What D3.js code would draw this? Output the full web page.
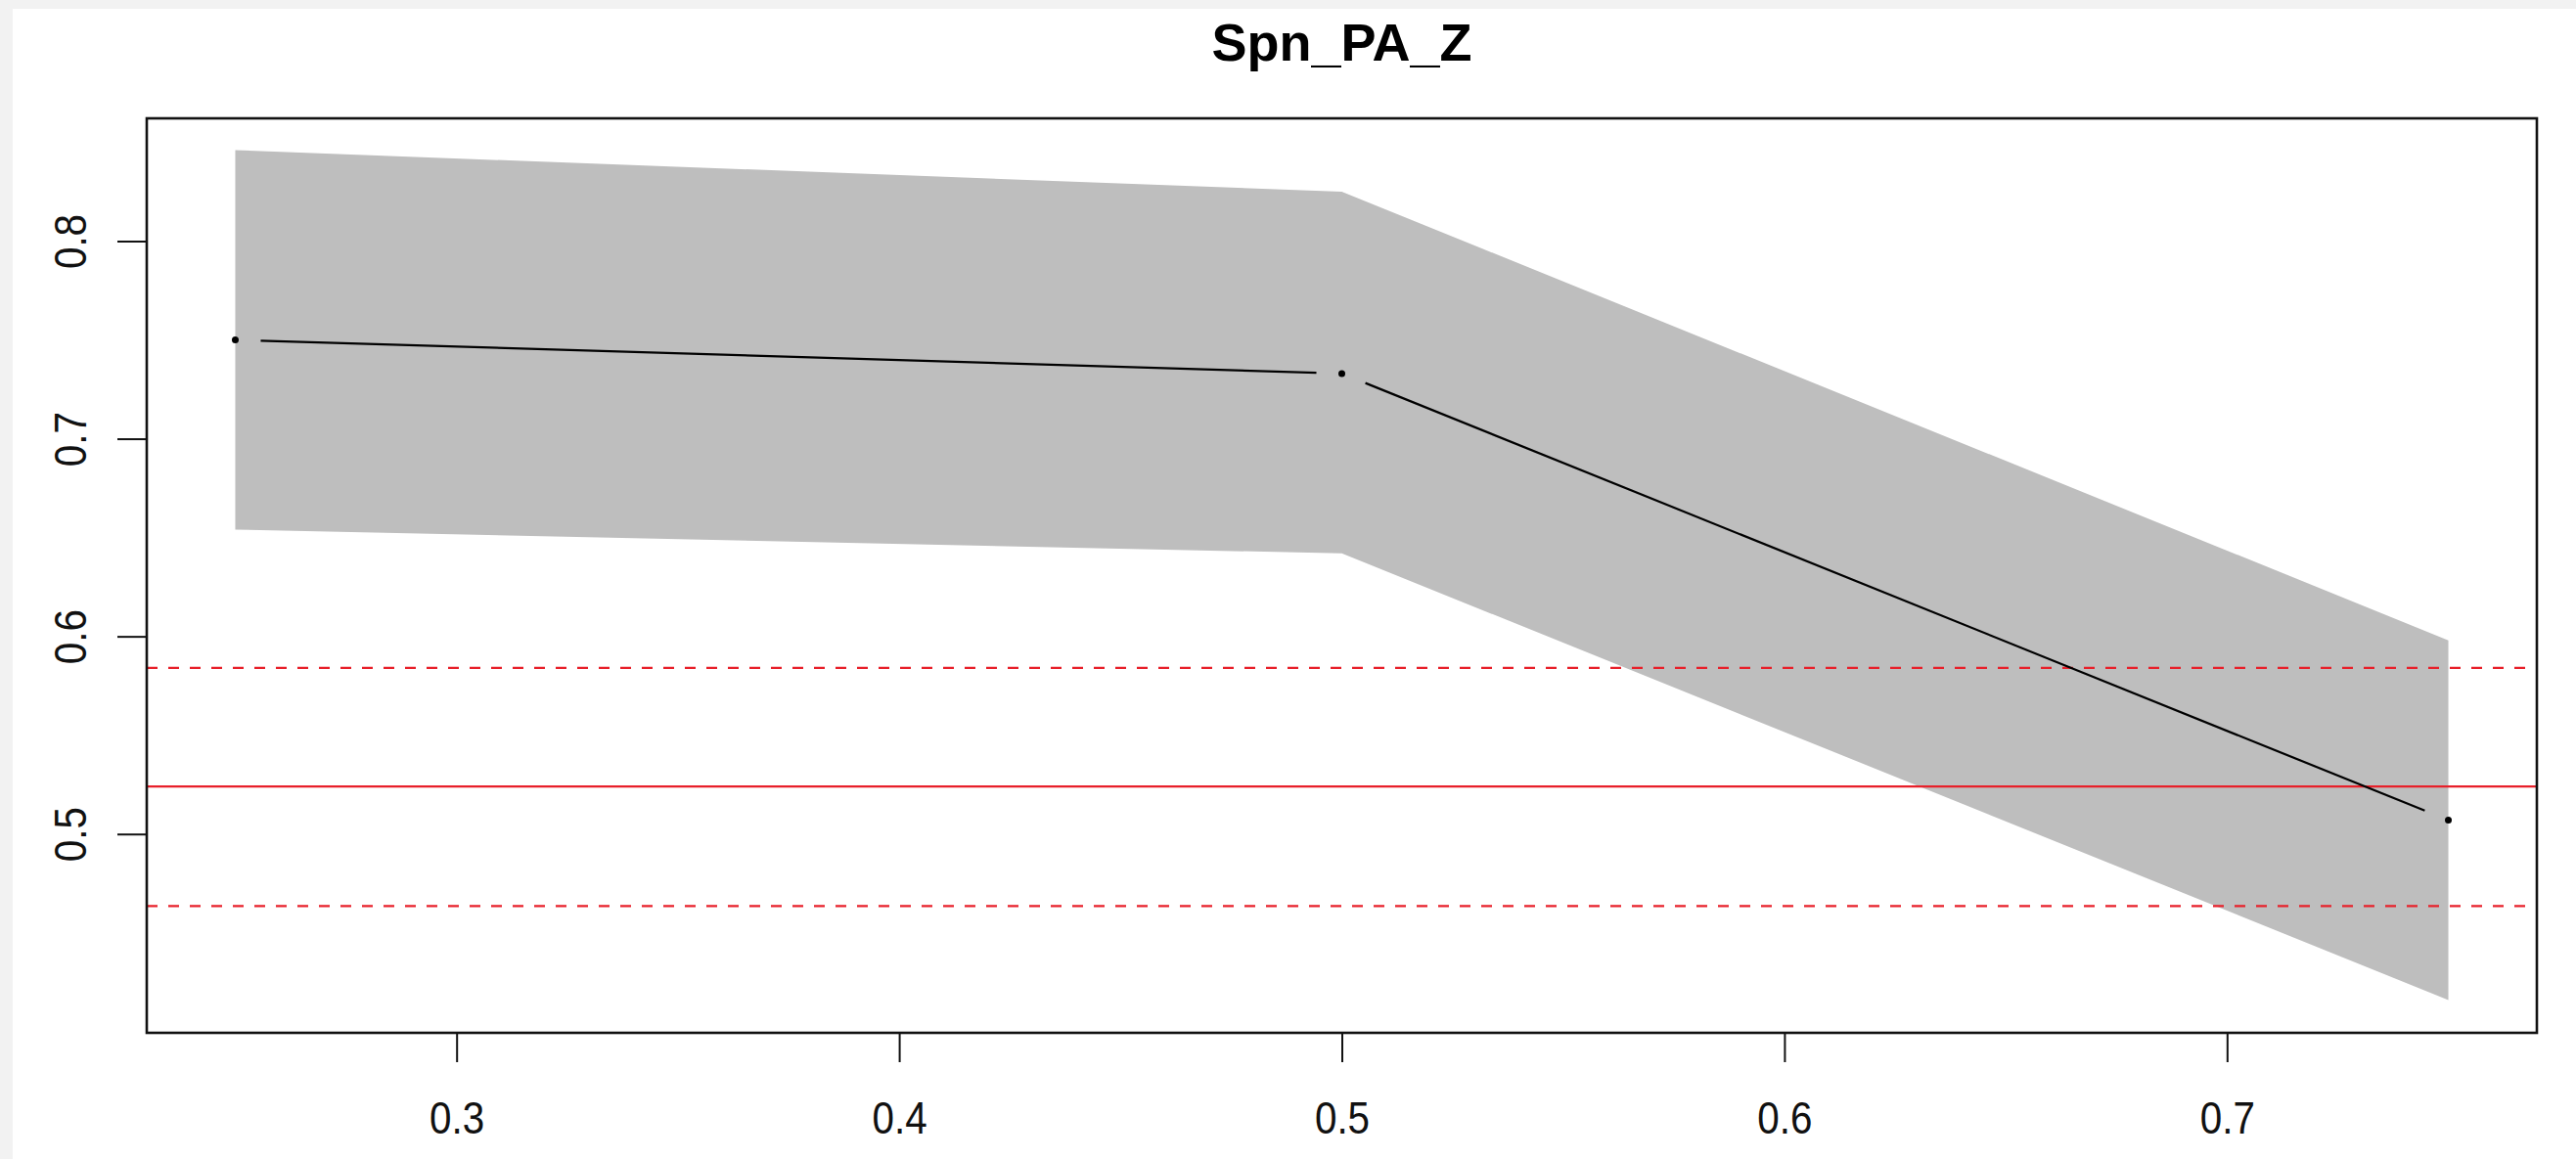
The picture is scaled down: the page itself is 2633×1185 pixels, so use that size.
<!DOCTYPE html>
<html>
<head>
<meta charset="utf-8">
<script src="https://cdn.jsdelivr.net/npm/d3@7"></script>
<style>
  body { margin: 0; background: #f2f2f2; }
  svg { display: block; }
</style>
</head>
<body>
<svg id="chart"></svg>
<script>
var width = 2633, height = 1185

// data
var title = "Spn_PA_Z"
var xValues = [0.25, 0.5, 0.75]
var meanValues = [0.750, 0.733, 0.507]
var upperValues = [0.846, 0.825, 0.598]
var lowerValues = [0.654, 0.642, 0.416]
var refValue = 0.524
var refUpper = 0.584
var refLower = 0.4635
var xTicks = [0.3, 0.4, 0.5, 0.6, 0.7]
var yTicks = [0.5, 0.6, 0.7, 0.8]

var box = {left: 150, right: 2593, top: 121, bottom: 1056}

var svg = d3.select('#chart').attr('width', width).attr('height', height)

// window background, white canvas
svg.append('rect').attr('width', width).attr('height', height).attr('fill', '#f2f2f2')
svg.append('rect').attr('x', 13).attr('y', 9)
  .attr('width', width - 13).attr('height', height - 9).attr('fill', 'white')

var x = d3.scaleLinear().domain([0.23, 0.77]).range([box.left, box.right])
var y = d3.scaleLinear().domain([0.3994, 0.8621]).range([box.bottom, box.top])

var plot = svg.append('g')

// confidence band
var band = xValues.map((v, i) => [x(v), y(upperValues[i])])
  .concat(xValues.map((v, i) => [x(v), y(lowerValues[i])]).reverse())

plot.append('polygon')
  .attr('points', band.map(p => p.join(',')).join(' '))
  .attr('fill', '#bebebe')

// reference lines
plot.append('line')
  .attr('x1', box.left).attr('x2', box.right)
  .attr('y1', y(refValue)).attr('y2', y(refValue))
  .attr('stroke', '#e8202a').attr('stroke-width', 2.2)

;[refUpper, refLower].forEach(v => {
  plot.append('line')
    .attr('x1', box.left).attr('x2', box.right)
    .attr('y1', y(v)).attr('y2', y(v))
    .attr('stroke', '#e8202a').attr('stroke-width', 2.2)
    .attr('stroke-dasharray', '11,11')
})

// mean line, type "b": segments stop short of the points
var gap = 26
for (var i = 0; i < xValues.length - 1; i++) {
  var x1 = x(xValues[i]), y1 = y(meanValues[i])
  var x2 = x(xValues[i + 1]), y2 = y(meanValues[i + 1])
  var len = Math.hypot(x2 - x1, y2 - y1)
  var ux = (x2 - x1) / len, uy = (y2 - y1) / len
  plot.append('line')
    .attr('x1', x1 + ux * gap).attr('y1', y1 + uy * gap)
    .attr('x2', x2 - ux * gap).attr('y2', y2 - uy * gap)
    .attr('stroke', 'black').attr('stroke-width', 2.2)
}

plot.selectAll('circle.pt')
  .data(xValues)
  .enter().append('circle')
  .attr('class', 'pt')
  .attr('cx', d => x(d))
  .attr('cy', (d, i) => y(meanValues[i]))
  .attr('r', 3.5)
  .attr('fill', 'black')

// box
svg.append('rect')
  .attr('x', box.left).attr('y', box.top)
  .attr('width', box.right - box.left).attr('height', box.bottom - box.top)
  .attr('fill', 'none').attr('stroke', '#111').attr('stroke-width', 2.6)

// x axis
var xAxis = svg.append('g')
  .attr('transform', 'translate(0,' + box.bottom + ')')
  .call(d3.axisBottom(x).tickValues(xTicks).tickSize(30).tickFormat(d3.format('.1f')))
xAxis.select('.domain').remove()
xAxis.selectAll('.tick line').attr('stroke', '#111').attr('stroke-width', 2)
xAxis.selectAll('.tick text')
  .attr('y', 0).attr('dy', null)
  .attr('transform', 'translate(0,103) scale(0.86,1)')
  .attr('fill', '#111')
  .style('font-family', '"Liberation Sans", Arial, sans-serif')
  .style('font-size', '47px')

// y axis
var yAxis = svg.append('g')
  .attr('transform', 'translate(' + box.left + ',0)')
  .call(d3.axisLeft(y).tickValues(yTicks).tickSize(30).tickFormat(d3.format('.1f')))
yAxis.select('.domain').remove()
yAxis.selectAll('.tick line').attr('stroke', '#111').attr('stroke-width', 2)
yAxis.selectAll('.tick text')
  .attr('x', 0).attr('dy', null)
  .attr('text-anchor', 'middle')
  .attr('transform', 'translate(-62,0) rotate(-90) scale(0.86,1)')
  .attr('fill', '#111')
  .style('font-family', '"Liberation Sans", Arial, sans-serif')
  .style('font-size', '47px')

// title
svg.append('text')
  .attr('x', (box.left + box.right) / 2)
  .attr('y', 62)
  .attr('text-anchor', 'middle')
  .style('font-family', '"Liberation Sans", Arial, sans-serif')
  .style('font-weight', 'bold')
  .style('font-size', '54px')
  .text(title)
</script>
</body>
</html>
